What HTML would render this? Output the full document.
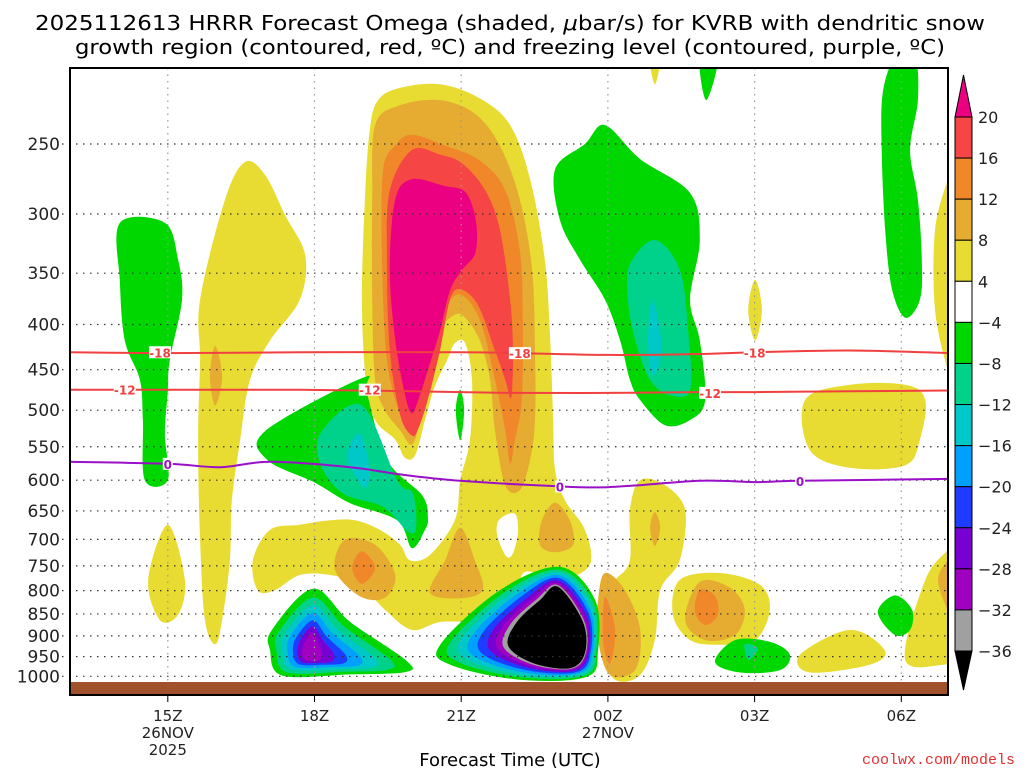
<!DOCTYPE html>
<html><head><meta charset="utf-8"><style>
html,body{margin:0;padding:0;background:#fff;}
svg{display:block;font-family:"DejaVu Sans","Liberation Sans",sans-serif;}
</style></head><body>
<svg id="chart" width="1024" height="768" viewBox="0 0 1024 768" xmlns="http://www.w3.org/2000/svg">
<defs><clipPath id="plotclip"><rect x="70" y="68" width="878" height="627"/></clipPath></defs>
<text x="510" y="30" font-size="20" text-anchor="middle" textLength="950" lengthAdjust="spacingAndGlyphs">2025112613 HRRR Forecast Omega (shaded, <tspan font-style="italic">μ</tspan>bar/s) for KVRB with dendritic snow</text>
<text x="510" y="54" font-size="20" text-anchor="middle" textLength="870" lengthAdjust="spacingAndGlyphs">growth region (contoured, red, ºC) and freezing level (contoured, purple, ºC)</text>
<g id="fills" clip-path="url(#plotclip)"></g>
<g id="grid"></g>
<g id="contours" clip-path="url(#plotclip)"></g>
<rect x="70" y="682" width="878" height="13" fill="#a0522d"/>
<rect x="70" y="68" width="878" height="627" fill="none" stroke="#000" stroke-width="2"/>
<g id="axes"></g>
<g id="colorbar"></g>
<text x="510" y="766" font-size="18" text-anchor="middle">Forecast Time (UTC)</text>
<text x="1015" y="764" font-size="15" fill="#e03030" text-anchor="end" font-family="Liberation Mono, monospace">coolwx.com/models</text>
</svg>
<script>
// ---- axis scales ----
const X0 = 70, PXH = 48.9;
function xs(h){ return X0 + h*PXH; }
function ys(p){ return 144 + 384*Math.log(p/250); }

// ---- axis data ----
const pressureTicks = [250,300,350,400,450,500,550,600,650,700,750,800,850,900,950,1000];
const timeTickHours = [2,5,8,11,14,17];
const timeTickLabels = ['15Z','18Z','21Z','00Z','03Z','06Z'];
const cbLevels = ['20','16','12','8','4','\u22124','\u22128','\u221212','\u221216','\u221220','\u221224','\u221228','\u221232','\u221236'];
const cbColors = ['#f54545','#f0882a','#e6ac32','#e8dc32','#ffffff','#00d700','#00d28c','#00c8c8','#00a0ff','#1e3cff','#7800d2','#a000c0','#a0a0a0'];

const Y='#e8dc32', DY='#e6ac32', OR='#f0882a', RD='#f54545', MG='#ea0080', GR='#00d700', TL='#00d28c', CY='#00c8c8', LB='#00a0ff', BL='#1e3cff', PU='#7800d2', MP='#a000c0', GY='#a0a0a0', BK='#000000', WH='#ffffff';

// ---- shaded regions: [hour since 13Z, hPa] ----
const yellowMain = [[6.30,223],[6.75,216],[7.57,214],[8.38,222],[9.0,238],[9.41,274],[9.71,338],[9.82,416],[9.88,513],[9.92,584],[10.12,632],[10.53,683],[10.63,748],[10.02,778],[9.30,762],[9.10,820],[8.38,863],[7.57,868],[6.99,886],[6.44,841],[5.93,788],[5.32,768],[4.70,768],[4.19,799],[3.84,799],[3.74,739],[4.09,683],[4.70,674],[5.32,666],[5.83,666],[6.34,683],[6.75,710],[6.95,739],[7.36,729],[7.87,666],[7.98,600],[8.18,540],[8.22,462],[8.08,420],[7.87,420],[7.71,439],[7.46,470],[7.26,513],[7.06,562],[6.85,566],[6.65,540],[6.24,513],[6.05,462],[5.97,375],[6.03,289],[6.13,241]];
const yellowLeft = [[2.66,375],[3.17,289],[3.58,262],[3.99,271],[4.40,301],[4.81,334],[4.70,375],[4.09,417],[3.68,462],[3.48,540],[3.31,632],[3.27,739],[3.11,864],[2.97,920],[2.76,864],[2.66,701],[2.62,540],[2.66,439]];
const yellowSmallLeft = [[2.0,674],[2.35,778],[2.21,852],[1.84,864],[1.60,778]];
const yellowRightStrip = [[11.66,600],[12.17,608],[12.58,649],[12.47,739],[12.07,799],[11.96,910],[11.66,996],[11.15,1009],[10.84,934],[10.80,820],[11.15,778],[11.45,739],[11.45,649]];
const yellowMidRight = [[12.47,778],[13.29,764],[14.11,788],[14.31,841],[14.01,910],[13.29,921],[12.68,910],[12.33,852]];
const yellowLowRight = [[14.93,945],[15.95,886],[16.66,934],[16.36,970],[15.13,990]];
const yellowUpperRight = [[15.03,487],[15.95,468],[17.08,468],[17.49,487],[17.38,540],[17.08,577],[15.95,581],[15.13,555]];
const yellowEdgeTop = [[18.1,260],[17.95,274],[17.69,313],[17.69,385],[17.95,450],[18.1,460]];
const yellowEdgeBottom = [[18.1,700],[17.95,719],[17.49,778],[17.08,958],[17.95,970],[18.1,975]];
const yellowTiny03Z = [[14.01,356],[14.15,385],[14.01,417],[13.87,385]];
const yellowTopTiny = [[11.86,200],[12.07,200],[11.96,214]];
const whiteHole = [[8.79,664],[9.10,655],[9.16,690],[9.04,729],[8.90,729],[8.73,690]];

const dkPlume = [[6.24,238],[6.75,226],[7.57,223],[8.28,231],[8.79,251],[9.20,289],[9.45,347],[9.51,428],[9.51,513],[9.41,569],[9.20,616],[8.90,608],[8.69,527],[8.59,462],[8.38,417],[8.08,393],[7.87,390],[7.57,406],[7.36,445],[7.16,513],[6.99,547],[6.75,527],[6.44,500],[6.24,462],[6.18,375],[6.18,289]];
const dkBlob1 = [[9.92,636],[10.22,666],[10.29,710],[9.92,724],[9.61,710],[9.65,666]];
const dkBlob2 = [[5.62,701],[6.24,710],[6.65,768],[6.44,815],[5.93,812],[5.42,758]];
const dkBlob3 = [[7.98,679],[8.28,739],[8.44,798],[7.98,816],[7.36,804],[7.67,739]];
const dkBlob4 = [[10.94,764],[11.35,799],[11.66,886],[11.56,983],[11.04,996],[10.80,910],[10.80,820]];
const dkBlob5 = [[12.88,782],[13.50,794],[13.80,841],[13.60,898],[12.99,910],[12.58,864]];
const dkBlob6 = [[11.96,652],[12.07,679],[11.96,712],[11.86,679]];
const dkBlob7 = [[2.97,423],[3.11,458],[2.97,494],[2.86,458]];
const dkBlob8 = [[18.1,730],[17.95,739],[17.75,778],[17.95,842],[18.1,850]];

const orPlume = [[6.40,268],[6.65,251],[6.99,244],[7.67,251],[8.38,261],[8.90,282],[9.20,330],[9.26,395],[9.24,487],[9.10,540],[9.0,575],[8.90,527],[8.69,462],[8.38,395],[7.98,370],[7.67,385],[7.46,427],[7.26,474],[7.06,520],[6.99,532],[6.75,506],[6.48,439],[6.38,338]];
const orBlob1 = [[5.97,722],[6.24,754],[5.97,786],[5.77,754]];
const orBlob2 = [[10.94,813],[11.15,886],[11.04,968],[10.90,910]];
const orBlob3 = [[12.88,799],[13.19,811],[13.25,852],[12.99,875],[12.78,845]];

const rdPlume = [[6.54,282],[6.99,254],[7.57,257],[8.02,263],[8.49,282],[8.79,312],[9.0,375],[9.06,426],[9.04,474],[9.0,484],[8.90,462],[8.69,428],[8.34,380],[7.98,365],[7.77,375],[7.57,427],[7.32,486],[7.12,525],[6.99,534],[6.75,506],[6.54,428],[6.48,338]];
const mgPlume = [[6.65,289],[6.99,274],[7.67,279],[8.04,282],[8.22,293],[8.32,312],[8.28,333],[8.02,347],[7.77,366],[7.57,406],[7.32,450],[7.12,487],[6.99,504],[6.85,480],[6.65,416],[6.54,347]];

const grLeft = [[1.02,307],[1.94,307],[2.21,338],[2.29,375],[2.04,439],[2.0,476],[1.94,532],[2.0,600],[1.53,600],[1.49,513],[1.43,462],[1.12,417],[1.02,358]];
const grMid = [[3.99,528],[5.97,460],[6.07,478],[6.48,569],[7.20,624],[7.32,661],[7.26,683],[6.99,716],[6.69,666],[5.73,637],[5.01,604],[4.03,569]];
const tlMid = [[5.15,528],[5.97,494],[6.69,600],[7.01,621],[7.08,679],[6.91,686],[6.40,643],[5.58,621],[5.11,574]];
const cyMid = [[5.93,532],[6.13,584],[6.03,612],[5.77,584],[5.66,559]];
const grTiny = [[7.98,474],[8.06,500],[7.98,541],[7.89,500]];
const grRight = [[9.92,267],[10.53,250],[10.94,238],[11.66,260],[12.68,284],[12.88,321],[12.68,375],[12.88,417],[12.99,487],[12.68,513],[12.17,520],[11.66,487],[11.45,462],[11.25,417],[10.94,375],[10.43,338],[10.02,305]];
const tlRight = [[11.45,342],[11.96,321],[12.47,347],[12.64,406],[12.68,474],[12.27,481],[11.86,462],[11.56,417],[11.41,375]];
const cyRight = [[11.90,375],[12.07,406],[12.07,439],[11.90,456],[11.82,417]];
const grTop = [[12.88,200],[13.25,200],[13.01,223]];
const grFarRight = [[16.87,200],[17.28,200],[17.34,223],[17.18,254],[17.34,289],[17.42,338],[17.38,375],[17.08,393],[16.81,365],[16.67,313],[16.60,254],[16.62,219]];
const grSmallRight = [[16.87,810],[17.22,841],[17.18,886],[16.87,898],[16.52,846]];
const grLow03Z = [[13.60,910],[14.31,914],[14.72,945],[14.52,984],[13.70,990],[13.19,963]];
const tlLow03Z = [[13.80,920],[14.07,930],[13.87,958]];

// nested lows: outer and inner outlines (same point count)
const lowLeftOuter = [[4.97,796],[5.73,868],[6.89,961],[6.85,989],[5.73,995],[4.34,998],[4.09,934],[4.13,886]];
const lowLeftInner = [[4.97,892],[5.07,916],[5.15,940],[5.11,958],[4.97,961],[4.81,958],[4.74,940],[4.83,909]];
const lowLeftSteps = [0,0.2,0.38,0.55,0.72,0.86,1];
const lowLeftColors = [GR,TL,CY,LB,BL,PU,MP];
const lowMidOuter = [[10.02,752],[10.74,820],[10.80,934],[10.57,1001],[9.20,1009],[7.77,970],[7.57,921],[8.79,799]];
const lowMidInner = [[9.98,792],[10.49,868],[10.53,941],[10.22,979],[9.47,966],[8.96,923],[9.14,868],[9.61,820]];
const lowMidSteps = [0,0.14,0.28,0.42,0.56,0.7,0.82,0.92,1];
const lowMidColors = [GR,TL,CY,LB,BL,PU,MP,GY,BK];

const layers = [
 [Y,yellowMain],[Y,yellowLeft],[Y,yellowSmallLeft],[Y,yellowRightStrip],[Y,yellowMidRight],[Y,yellowLowRight],[Y,yellowUpperRight],[Y,yellowEdgeTop],[Y,yellowEdgeBottom],[Y,yellowTiny03Z],[Y,yellowTopTiny],[WH,whiteHole],
 [DY,dkPlume],[DY,dkBlob1],[DY,dkBlob2],[DY,dkBlob3],[DY,dkBlob4],[DY,dkBlob5],[DY,dkBlob6],[DY,dkBlob7],[DY,dkBlob8],
 [OR,orPlume],[OR,orBlob1],[OR,orBlob2],[OR,orBlob3],[RD,rdPlume],[MG,mgPlume],
 [GR,grLeft],[GR,grMid],[TL,tlMid],[CY,cyMid],[GR,grTiny],[GR,grRight],[TL,tlRight],[CY,cyRight],[GR,grTop],[GR,grFarRight],[GR,grSmallRight],[GR,grLow03Z],[TL,tlLow03Z]
];

// ---- contour lines ----
const isoHours = [0,2,4.7,8,9.2,11,12.9,14,15.95,18];
const isoM18 = [430,431,430,430,431,433,432,430,428,431];
const isoM12 = [474,474,474,477,478,478,477,477,476,475];
const fzHours = [0,2,3.07,4.09,5.73,6.75,7.98,9.82,11,12.88,14,14.93,18];
const fzLevel = [572,575,580,572,580,591,601,609,611,601,603,601,598];
const lblM18 = [[1.84,430],[9.2,431],[14.0,430]];
const lblM12 = [[1.12,474],[6.13,474],[13.09,478]];
const lblFz = [[2.0,575],[10.02,610],[14.93,601]];

const NS='http://www.w3.org/2000/svg';
function mk(tag, attrs, parent){ const e=document.createElementNS(NS,tag); for(const k in attrs) e.setAttribute(k,attrs[k]); parent.appendChild(e); return e; }
function smoothClosed(pts){
  const n=pts.length; let d='M'+pts[0][0].toFixed(1)+','+pts[0][1].toFixed(1);
  for(let i=0;i<n;i++){
    const p0=pts[(i-1+n)%n],p1=pts[i],p2=pts[(i+1)%n],p3=pts[(i+2)%n];
    const c1=[p1[0]+(p2[0]-p0[0])/6,p1[1]+(p2[1]-p0[1])/6];
    const c2=[p2[0]-(p3[0]-p1[0])/6,p2[1]-(p3[1]-p1[1])/6];
    d+='C'+c1[0].toFixed(1)+','+c1[1].toFixed(1)+' '+c2[0].toFixed(1)+','+c2[1].toFixed(1)+' '+p2[0].toFixed(1)+','+p2[1].toFixed(1);
  }
  return d+'Z';
}
function smoothOpen(pts){
  let d='M'+pts[0][0].toFixed(1)+','+pts[0][1].toFixed(1);
  for(let i=0;i<pts.length-1;i++){
    const p0=pts[Math.max(i-1,0)],p1=pts[i],p2=pts[i+1],p3=pts[Math.min(i+2,pts.length-1)];
    const c1=[p1[0]+(p2[0]-p0[0])/6,p1[1]+(p2[1]-p0[1])/6];
    const c2=[p2[0]-(p3[0]-p1[0])/6,p2[1]-(p3[1]-p1[1])/6];
    d+='C'+c1[0].toFixed(1)+','+c1[1].toFixed(1)+' '+c2[0].toFixed(1)+','+c2[1].toFixed(1)+' '+p2[0].toFixed(1)+','+p2[1].toFixed(1);
  }
  return d;
}
const toPx = pts => pts.map(q=>[xs(q[0]),ys(q[1])]);

const gF=document.getElementById('fills');
layers.forEach(L=>{
  const el=mk('path',{d:smoothClosed(toPx(L[1])),fill:L[0]},gF);
  
  
});
function drawNested(outer,inner,steps,colors){
  const o=toPx(outer), n=toPx(inner);
  steps.forEach((t,i)=>{
    const pts=o.map((q,k)=>[q[0]+(n[k][0]-q[0])*t, q[1]+(n[k][1]-q[1])*t]);
    const el=mk('path',{d:smoothClosed(pts),fill:colors[i]},gF);
    
    
  });
}
drawNested(lowLeftOuter,lowLeftInner,lowLeftSteps,lowLeftColors);
drawNested(lowMidOuter,lowMidInner,lowMidSteps,lowMidColors);

// grid
const gG=document.getElementById('grid');
pressureTicks.forEach(p=>{
  const el=mk('line',{x1:62,x2:948,y1:ys(p),y2:ys(p),stroke:'#333','stroke-width':1.2,'stroke-dasharray':'1.5 5.5'},gG);
  
  
});
timeTickHours.forEach(h=>{
  const el=mk('line',{x1:xs(h),x2:xs(h),y1:68,y2:702,stroke:'#999','stroke-width':1.2,'stroke-dasharray':'1.5 5'},gG);
  
  
});

// contours
const gC=document.getElementById('contours');
function isoLine(hours,levels,color,name){
  const pts=hours.map((h,i)=>[xs(h),ys(levels[i])]);
  const el=mk('path',{d:smoothOpen(pts),fill:'none',stroke:color,'stroke-width':2},gC);
  
  
}
isoLine(isoHours,isoM18,'#f04040','contour-minus18');
isoLine(isoHours,isoM12,'#f04040','contour-minus12');
isoLine(fzHours,fzLevel,'#9a10c8','freezing-level');
function labels(list,txt,color,w){
  list.forEach(q=>{
    const r=mk('rect',{x:xs(q[0])-w/2,y:ys(q[1])-6,width:w,height:12,fill:'#fff'},gC);
    
    
    const t=mk('text',{x:xs(q[0]),y:ys(q[1])+5,'font-size':12,'font-weight':'bold','text-anchor':'middle',fill:color},gC);
    
    
    t.textContent=txt;
  });
}
labels(lblM18,'-18','#f04040',22);
labels(lblM12,'-12','#f04040',22);
labels(lblFz,'0','#9a10c8',10);

// axes
const gA=document.getElementById('axes');
pressureTicks.forEach(p=>{
  const t=mk('text',{x:60,y:ys(p)+6,'font-size':17,'text-anchor':'end',fill:'#222'},gA);
  
  
  t.textContent=p;
});
timeTickHours.forEach((h,i)=>{
  const k=mk('line',{x1:xs(h),x2:xs(h),y1:695,y2:702,stroke:'#000','stroke-width':1},gA);
  
  
  const t=mk('text',{x:xs(h),y:721,'font-size':15,'text-anchor':'middle',fill:'#222'},gA);
  
  
  t.textContent=timeTickLabels[i];
});
const dateLabels=[[2,738,'26NOV'],[2,755,'2025'],[11,738,'27NOV']];
dateLabels.forEach(d=>{
  const t=mk('text',{x:xs(d[0]),y:d[1],'font-size':15,'text-anchor':'middle',fill:'#222'},gA);
  
  
  t.textContent=d[2];
});

// colorbar
const gB=document.getElementById('colorbar');
const cbTop=117, cbH=(651-117)/13, cbX=955, cbW=17;
mk('polygon',{points:`${cbX},${cbTop} ${cbX+cbW},${cbTop} ${cbX+cbW/2},75`,fill:'#ea0080',stroke:'#000','stroke-width':1},gB);
cbColors.forEach((c,i)=>{
  const r=mk('rect',{x:cbX,y:cbTop+i*cbH,width:cbW,height:cbH,fill:c,stroke:'#000','stroke-width':1},gB);
  
  
});
mk('polygon',{points:`${cbX},651 ${cbX+cbW},651 ${cbX+cbW/2},690`,fill:'#000',stroke:'#000','stroke-width':1},gB);
cbLevels.forEach((l,i)=>{
  const t=mk('text',{x:978,y:cbTop+i*cbH+6,'font-size':16,fill:'#222'},gB);
  
  
  t.textContent=l;
});
</script>
</body></html>
